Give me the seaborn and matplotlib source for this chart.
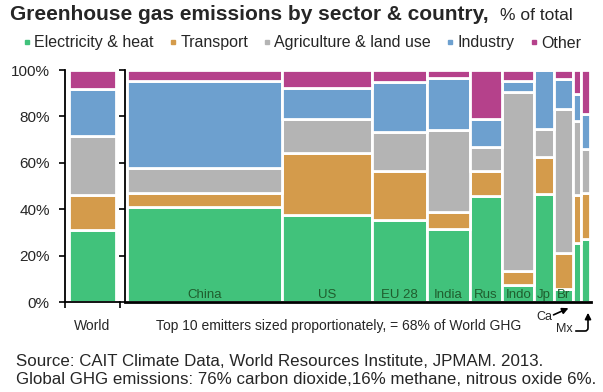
import numpy as np
import matplotlib.pyplot as plt
import seaborn as sns
from matplotlib.lines import Line2D

# sectors and colours
sectors = ["Electricity & heat", "Transport", "Agriculture & land use", "Industry", "Other"]
colors = ["#41c27b", "#d49b4b", "#b4b4b4", "#6da0cf", "#b5418b"]

# world split, % of total
world = [31.0, 15.0, 25.4, 20.4, 8.2]

# top 10 emitters, width = share of world GHG (sums to 68%)
countries = ["China", "US", "EU 28", "India", "Rus", "Indo", "Jp", "Br", "Ca", "Mx"]
bar_labels = ["China", "US", "EU 28", "India", "Rus", "Indo", "Jp", "Br", "", ""]
share = [22.8, 13.1, 8.2, 6.2, 4.8, 4.7, 2.8, 2.8, 1.3, 1.3]

electricity = [40.9, 37.4, 35.5, 31.6, 45.7, 7.5, 46.7, 5.7, 25.6, 27.3]
transport = [6.2, 26.8, 21.1, 7.2, 10.8, 5.7, 15.9, 15.3, 20.7, 19.8]
agriculture = [10.7, 14.5, 16.5, 35.3, 10.2, 77.2, 11.8, 62.0, 31.6, 18.7]
industry = [37.5, 13.4, 21.6, 22.3, 12.0, 4.7, 25.6, 13.1, 11.6, 15.1]
other = [4.7, 7.9, 5.3, 3.6, 21.3, 4.9, 0.0, 3.9, 10.5, 19.1]

yticks = [0, 20, 40, 60, 80, 100]

sns.set_style("ticks")
plt.rcParams['font.family'] = ['Liberation Sans', 'DejaVu Sans']

W, H = 603, 392
fig = plt.figure(figsize=(W / 100, H / 100), dpi=100)
ax_w = fig.add_axes([65 / W, 90 / H, 55 / W, 232 / H])
ax = fig.add_axes([125 / W, 90 / H, 466 / W, 232 / H])

# world column
bottom = 0.0
for name, v, c in zip(sectors, world, colors):
    ax_w.bar(0.5, v, width=0.86, bottom=bottom, color=c, edgecolor='white', linewidth=2)
    bottom += v

# marimekko for the top 10
series = [electricity, transport, agriculture, industry, other]
left = np.concatenate([[0], np.cumsum(share)[:-1]])
bottom = np.zeros(len(countries))
for name, vals, c in zip(sectors, series, colors):
    ax.bar(left, vals, width=share, bottom=bottom, align='edge', color=c,
           edgecolor='white', linewidth=2)
    bottom += np.array(vals)

for x, w, lab in zip(left, share, bar_labels):
    ax.text(x + w / 2, 1.6, lab, ha='center', va='baseline', color='#1f5e2e', fontsize=9.5)

for a in (ax_w, ax):
    a.set_ylim(0, 100)
    a.set_yticks(yticks)
    a.spines['top'].set_visible(False)
    a.spines['right'].set_visible(False)
    for s in ('left', 'bottom'):
        a.spines[s].set_color('black')
        a.spines[s].set_linewidth(1.3)
    a.tick_params(axis='both', direction='out', length=4, width=1.2, color='black')

ax_w.set_xlim(0, 1)
ax_w.set_xticks([0, 1])
ax_w.set_xticklabels([])
ax_w.set_yticklabels([f"{v}%" for v in yticks], fontsize=11)
ax_w.tick_params(axis='y', pad=7)

ax.set_xlim(-0.3, sum(share) + 0.1)
ax.set_xticks([])
ax.set_yticklabels([])
ax.spines['bottom'].set_linewidth(2)

# title
fig.text(10 / W, 1 - 15 / H, "Greenhouse gas emissions by sector & country,",
         fontsize=15, fontweight='bold', va='center')
fig.text(500 / W, 1 - 15 / H, "% of total", fontsize=12.5, va='center')

# legend
handles = [Line2D([], [], marker='s', linestyle='none', color=c, markersize=3.5) for c in colors]
fig.legend(handles, sectors, loc='center left', bbox_to_anchor=(24 / W, 1 - 43 / H),
           ncol=5, frameon=False, fontsize=11.5, handlelength=0.4, handletextpad=0.25,
           columnspacing=1.0, borderaxespad=0, borderpad=0)

# bottom notes
fig.text(92 / W, 1 - 326 / H, "World", ha='center', va='center', fontsize=10)
fig.text(156 / W, 1 - 326 / H, "Top 10 emitters sized proportionately, = 68% of World GHG",
         ha='left', va='center', fontsize=10)

fig.text(544 / W, 1 - 317 / H, "Ca", ha='center', va='center', fontsize=9)
fig.text(564 / W, 1 - 329 / H, "Mx", ha='center', va='center', fontsize=9)
fig.add_artist(plt.matplotlib.patches.FancyArrowPatch(
    (551, H - 316), (571, H - 307), transform=None, arrowstyle='-|>',
    mutation_scale=9, lw=1.2, color='black'))
fig.add_artist(plt.matplotlib.patches.FancyArrowPatch(
    (573, H - 331), (588, H - 310), transform=None, arrowstyle='-|>',
    mutation_scale=9, lw=1.2, color='black',
    connectionstyle='angle,angleA=0,angleB=90,rad=3'))

fig.text(16 / W, 1 - 362 / H, "Source: CAIT Climate Data, World Resources Institute, JPMAM. 2013.",
         ha='left', va='center', fontsize=12.2)
fig.text(16 / W, 1 - 380 / H, "Global GHG emissions: 76% carbon dioxide,16% methane, nitrous oxide 6%.",
         ha='left', va='center', fontsize=12.2)

fig.savefig("out.png", dpi=100)
